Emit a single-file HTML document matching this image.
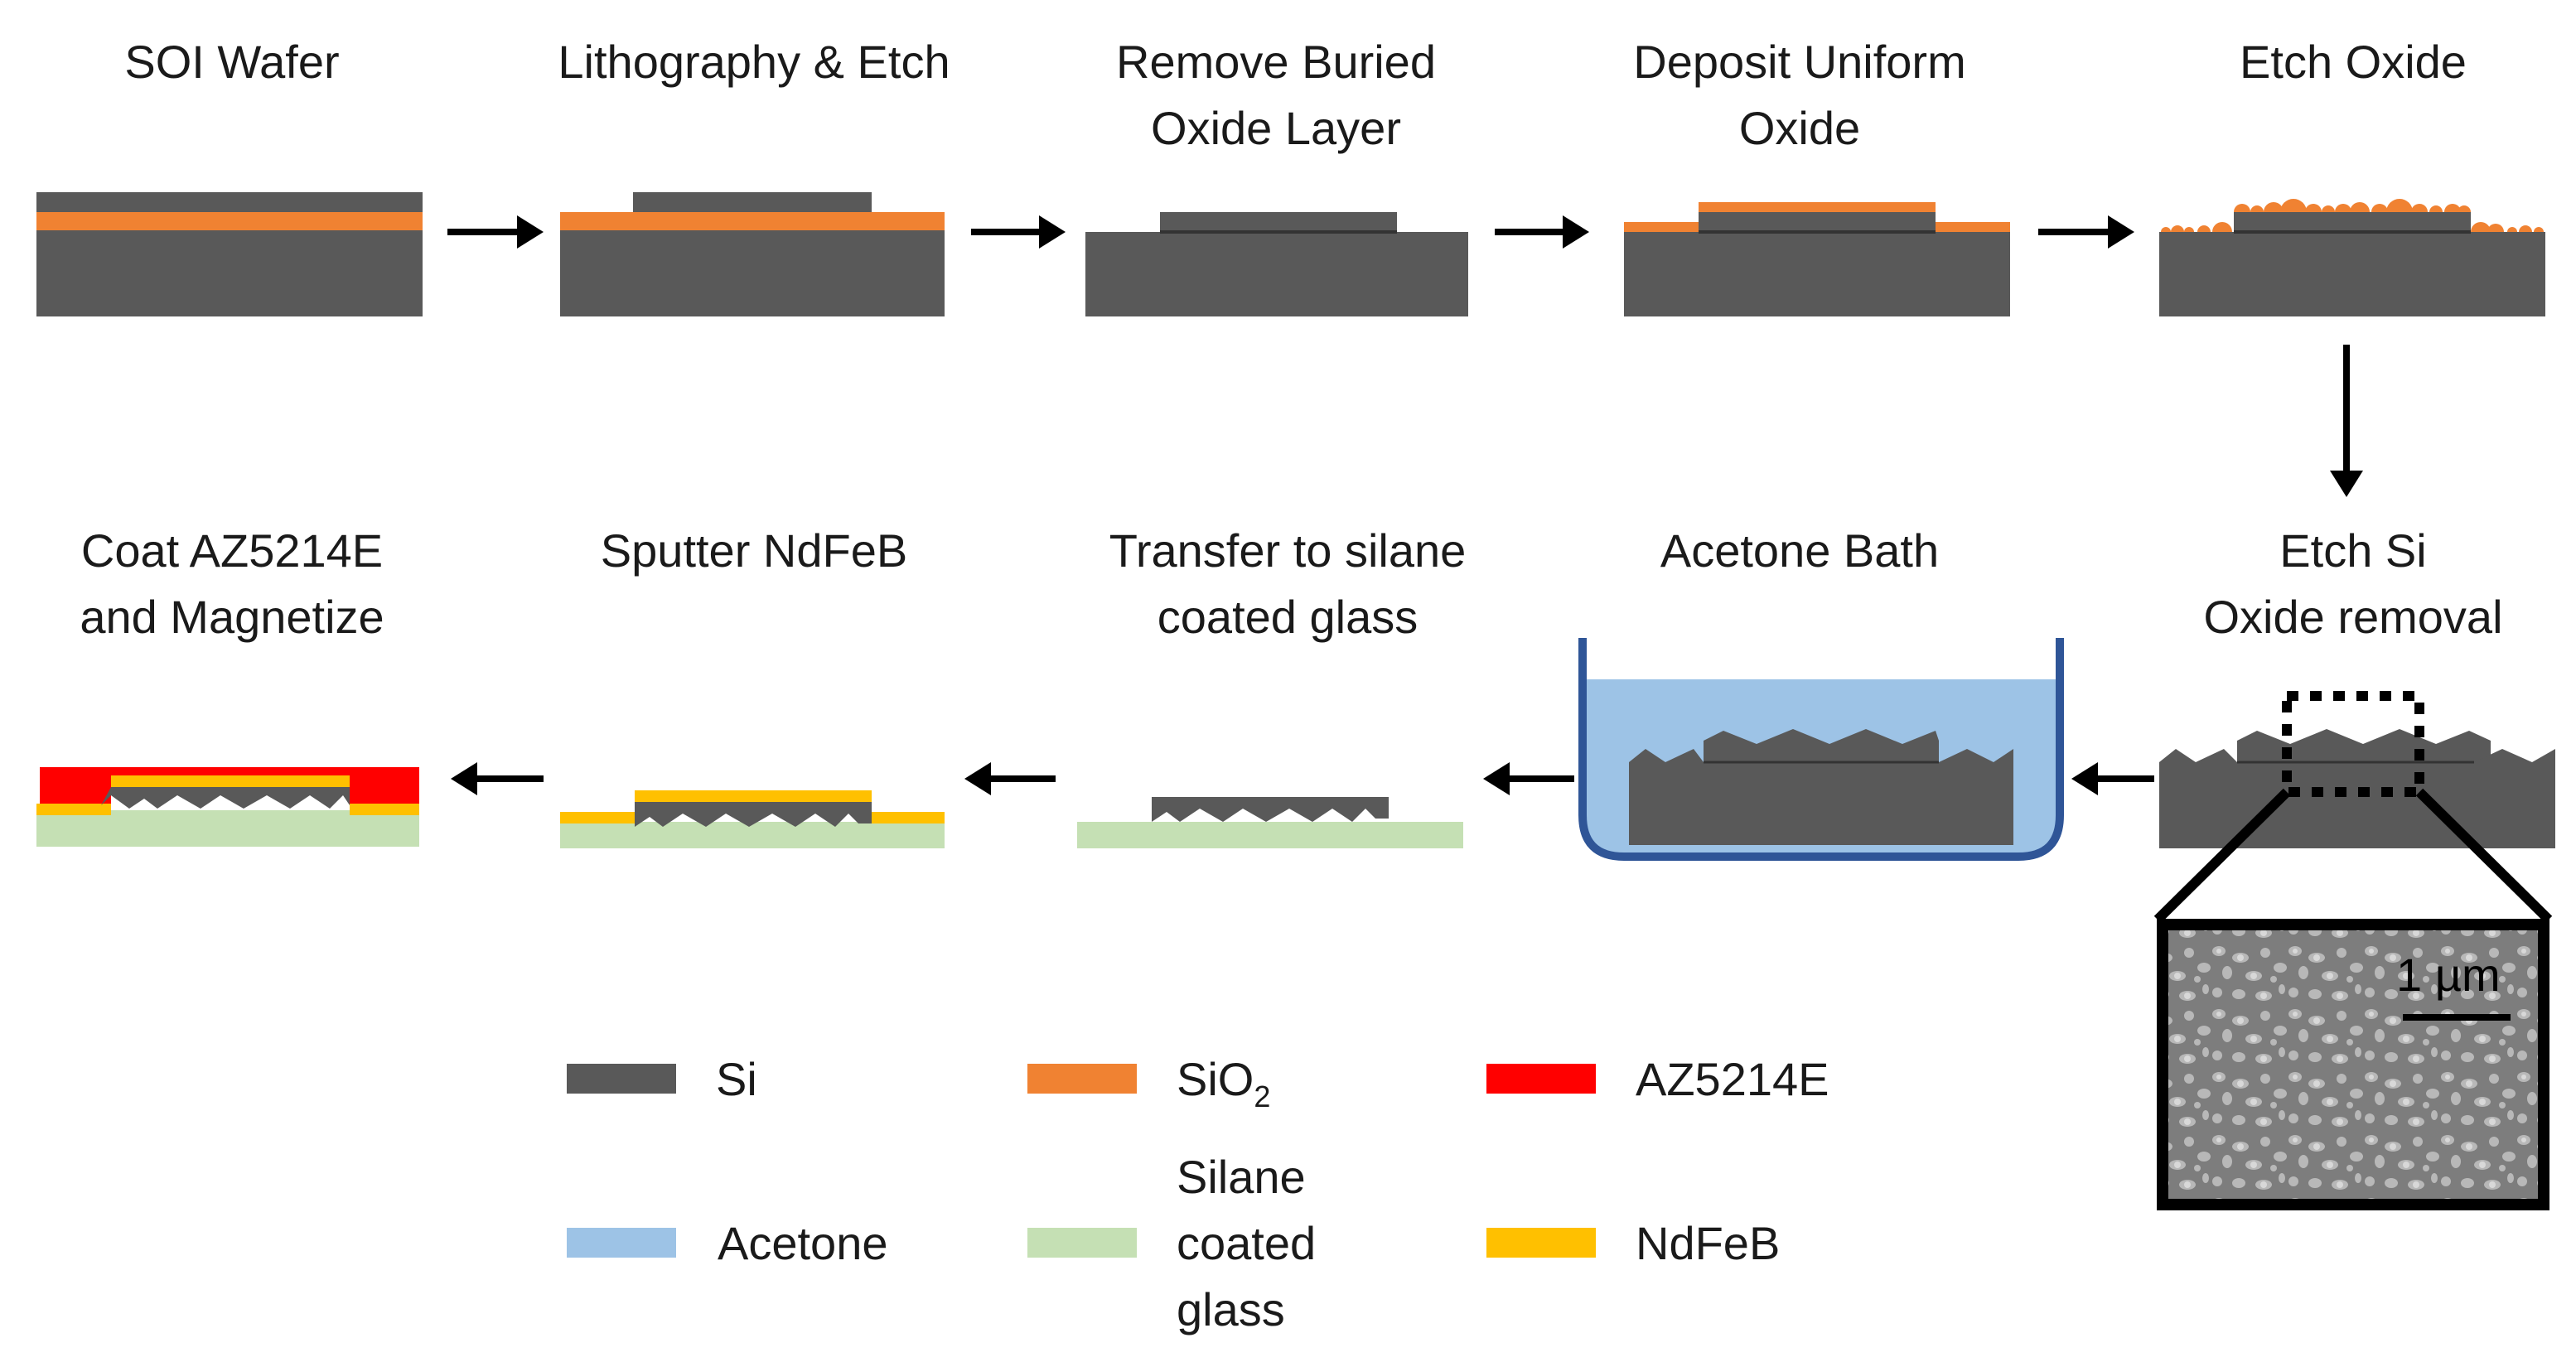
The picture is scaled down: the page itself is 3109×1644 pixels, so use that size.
<!DOCTYPE html>
<html><head><meta charset="utf-8"><style>html,body{margin:0;padding:0;background:#fff}svg{display:block}text{font-family:"Liberation Sans",sans-serif;font-size:28px;fill:#1a1a1a}</style></head><body>
<svg width="3109" height="1644" viewBox="0 0 1554.5 822" xmlns="http://www.w3.org/2000/svg">
<defs>
<pattern id="semp" x="0" y="0" width="46" height="38" patternUnits="userSpaceOnUse">
<rect width="46" height="38" fill="#7d7d7d"/>
<g fill="#b8b8b8">
<ellipse cx="5" cy="4" rx="4" ry="3"/><ellipse cx="18" cy="8" rx="5" ry="3"/><ellipse cx="33" cy="5" rx="3" ry="3"/>
<ellipse cx="42" cy="14" rx="4" ry="3"/><ellipse cx="10" cy="17" rx="3" ry="4"/><ellipse cx="26" cy="19" rx="5" ry="3"/>
<ellipse cx="4" cy="29" rx="3" ry="3"/><ellipse cx="17" cy="30" rx="4" ry="3"/><ellipse cx="32" cy="31" rx="5" ry="3"/>
<ellipse cx="43" cy="27" rx="2" ry="3"/><ellipse cx="38" cy="21" rx="2" ry="2"/>
</g>
<g fill="#d8d8d8"><circle cx="18" cy="8" r="2"/><circle cx="26" cy="19" r="2"/><circle cx="32" cy="31" r="2"/><circle cx="5" cy="4" r="1.5"/></g>
</pattern>
<marker id="ah" markerWidth="4" markerHeight="5" refX="1" refY="2.5" orient="auto" markerUnits="strokeWidth"><path d="M0,0 L4,2.5 L0,5 z" fill="#000"/></marker>
</defs>
<g text-anchor="middle">
<text x="140" y="47">SOI Wafer</text>
<text x="455" y="47">Lithography &amp; Etch</text>
<text x="770" y="47">Remove Buried</text><text x="770" y="87">Oxide Layer</text>
<text x="1086" y="47">Deposit Uniform</text><text x="1086" y="87">Oxide</text>
<text x="1420" y="47">Etch Oxide</text>
<text x="140" y="342">Coat AZ5214E</text><text x="140" y="382">and Magnetize</text>
<text x="455" y="342">Sputter NdFeB</text>
<text x="777" y="342">Transfer to silane</text><text x="777" y="382">coated glass</text>
<text x="1086" y="342">Acetone Bath</text>
<text x="1420" y="342">Etch Si</text><text x="1420" y="382">Oxide removal</text>
</g>
<!-- bumps for Etch Oxide (drawn before Si) -->
<g fill="#F08232">
<circle cx="1353" cy="128" r="5"/><circle cx="1362" cy="128" r="4"/><circle cx="1372" cy="128" r="6"/><circle cx="1384" cy="128" r="8"/>
<circle cx="1396" cy="128" r="5"/><circle cx="1405" cy="128" r="4"/><circle cx="1414" cy="128" r="5"/><circle cx="1424" cy="128" r="6"/>
<circle cx="1436" cy="128" r="5"/><circle cx="1448" cy="128" r="8"/><circle cx="1460" cy="128" r="5"/><circle cx="1470" cy="128" r="4"/><circle cx="1480" cy="128" r="5"/><circle cx="1487" cy="128" r="4"/>
<circle cx="1307" cy="140" r="3"/><circle cx="1314" cy="140" r="4"/><circle cx="1321" cy="140" r="3"/><circle cx="1330" cy="140" r="4"/><circle cx="1341" cy="140" r="6"/>
<circle cx="1497" cy="140" r="6"/><circle cx="1506" cy="140" r="5"/><circle cx="1516" cy="140" r="3"/><circle cx="1524" cy="140" r="4"/><circle cx="1532" cy="140" r="3"/>
</g>
<!-- top row -->
<g fill="#595959">
<rect x="22" y="116" width="233" height="12"/><rect x="22" y="139" width="233" height="52"/>
<rect x="382" y="116" width="144" height="12"/><rect x="338" y="139" width="232" height="52"/>
<rect x="700" y="128" width="143" height="12"/><rect x="655" y="140" width="231" height="51"/>
<rect x="1025" y="128" width="143" height="12"/><rect x="980" y="140" width="233" height="51"/>
<rect x="1348" y="128" width="143" height="12"/><rect x="1303" y="140" width="233" height="51"/>
</g>
<g fill="#333"><rect x="700" y="139" width="143" height="2"/><rect x="1025" y="139" width="143" height="2"/><rect x="1348" y="139" width="143" height="2"/></g>
<g fill="#F08232">
<rect x="22" y="128" width="233" height="11"/>
<rect x="338" y="128" width="232" height="11"/>
<rect x="1025" y="122" width="143" height="6"/>
<rect x="980" y="134" width="45" height="6"/><rect x="1168" y="134" width="45" height="6"/>
</g>
<g stroke="#000" stroke-width="4" fill="none" marker-end="url(#ah)">
<line x1="270" y1="140" x2="316" y2="140"/>
<line x1="586" y1="140" x2="631" y2="140"/>
<line x1="902" y1="140" x2="947" y2="140"/>
<line x1="1230" y1="140" x2="1276" y2="140"/>
<line x1="1416" y1="208" x2="1416" y2="288"/>
<line x1="1300" y1="470" x2="1262" y2="470"/>
<line x1="950" y1="470" x2="907" y2="470"/>
<line x1="637" y1="470" x2="594" y2="470"/>
<line x1="328" y1="470" x2="284" y2="470"/>
</g>
<!-- Etch Si -->
<g fill="#595959">
<path d="M1350,460 l0,-13 l12,-6 l20,8 l22,-9 l22,9 l22,-9 l22,9 l20,-8 l13,6 l0,13 z"/>
<path d="M1303,460 l10,-8 l12,8 l17,-8 l8,8 l143,0 l17,-8 l18,8 l14,-8 l0,60 l-239,0 z"/>
</g>
<line x1="1350" y1="460" x2="1493" y2="460" stroke="#333" stroke-width="1.5"/>
<rect x="1380" y="420" width="80" height="58" fill="none" stroke="#000" stroke-width="6" stroke-dasharray="7,7"/>
<g stroke="#000" stroke-width="6"><line x1="1380" y1="478" x2="1302" y2="555"/><line x1="1460" y1="478" x2="1538" y2="555"/></g>
<rect x="1305" y="558" width="230" height="169" fill="url(#semp)"/>
<rect x="1305" y="558" width="230" height="169" fill="none" stroke="#000" stroke-width="7"/>
<text x="1446" y="598" font-size="26" style="fill:#000">1 µm</text>
<line x1="1450" y1="614" x2="1515" y2="614" stroke="#000" stroke-width="4"/>
<!-- Acetone bath -->
<path d="M955,410 L955,492 Q955,517 980,517 L1218,517 Q1243,517 1243,492 L1243,410 z" fill="#9DC3E6"/>
<g fill="#595959">
<path d="M1028,460 l0,-13 l12,-6 l20,8 l22,-9 l22,9 l22,-9 l22,9 l20,-8 l2,6 l0,13 z"/>
<path d="M983,460 l10,-8 l12,8 l17,-8 l6,8 l142,0 l17,-8 l16,8 l12,-8 l0,58 l-232,0 z"/>
</g>
<line x1="1028" y1="460" x2="1170" y2="460" stroke="#333" stroke-width="1.5"/>
<path d="M955,385 L955,492 Q955,517 980,517 L1218,517 Q1243,517 1243,492 L1243,385" fill="none" stroke="#2F5597" stroke-width="5"/>
<!-- Transfer -->
<rect x="650" y="496" width="233" height="16" fill="#C5E0B4"/>
<path d="M695,481 l143,0 l0,13 l-8,0 l-6,-6 l-8,8 l-12,-8 l-12,8 l-14,-8 l-14,8 l-14,-8 l-12,8 l-14,-8 l-12,8 l-8,-6 l-9,6 z" fill="#595959"/>
<!-- Sputter -->
<rect x="338" y="496" width="232" height="16" fill="#C5E0B4"/>
<rect x="338" y="490" width="45" height="7" fill="#FFC000"/><rect x="526" y="490" width="44" height="7" fill="#FFC000"/>
<rect x="383" y="477" width="143" height="7" fill="#FFC000"/>
<path d="M383,484 l143,0 l0,13 l-8,0 l-6,-6 l-8,8 l-12,-8 l-12,8 l-14,-8 l-14,8 l-14,-8 l-12,8 l-14,-8 l-12,8 l-8,-6 l-9,6 z" fill="#595959"/>
<!-- Coat -->
<rect x="22" y="489" width="231" height="22" fill="#C5E0B4"/>
<rect x="24" y="463" width="229" height="24" fill="#FF0000"/>
<rect x="22" y="485" width="45" height="7" fill="#FFC000"/><rect x="211" y="485" width="42" height="7" fill="#FFC000"/>
<rect x="67" y="468" width="144" height="7" fill="#FFC000"/>
<path d="M67,475 l144,0 l0,14 l-144,0 z" fill="#fff"/>
<path d="M67,475 l144,0 l0,11 l-4,-6 l-8,8 l-12,-8 l-12,8 l-14,-8 l-14,8 l-14,-8 l-12,8 l-14,-8 l-12,8 l-8,-6 l-9,6 l-11,-8 l-6,6 z" fill="#595959"/>
<!-- legend -->
<rect x="342" y="642" width="66" height="18" fill="#595959"/><text x="432" y="661">Si</text>
<rect x="620" y="642" width="66" height="18" fill="#F08232"/><text x="710" y="661">SiO<tspan font-size="18" dy="7">2</tspan></text>
<rect x="897" y="642" width="66" height="18" fill="#FF0000"/><text x="987" y="661">AZ5214E</text>
<rect x="342" y="741" width="66" height="18" fill="#9DC3E6"/><text x="433" y="760">Acetone</text>
<rect x="620" y="741" width="66" height="18" fill="#C5E0B4"/><text x="710" y="720">Silane</text><text x="710" y="760">coated</text><text x="710" y="800">glass</text>
<rect x="897" y="741" width="66" height="18" fill="#FFC000"/><text x="987" y="760">NdFeB</text>
</svg>
</body></html>
